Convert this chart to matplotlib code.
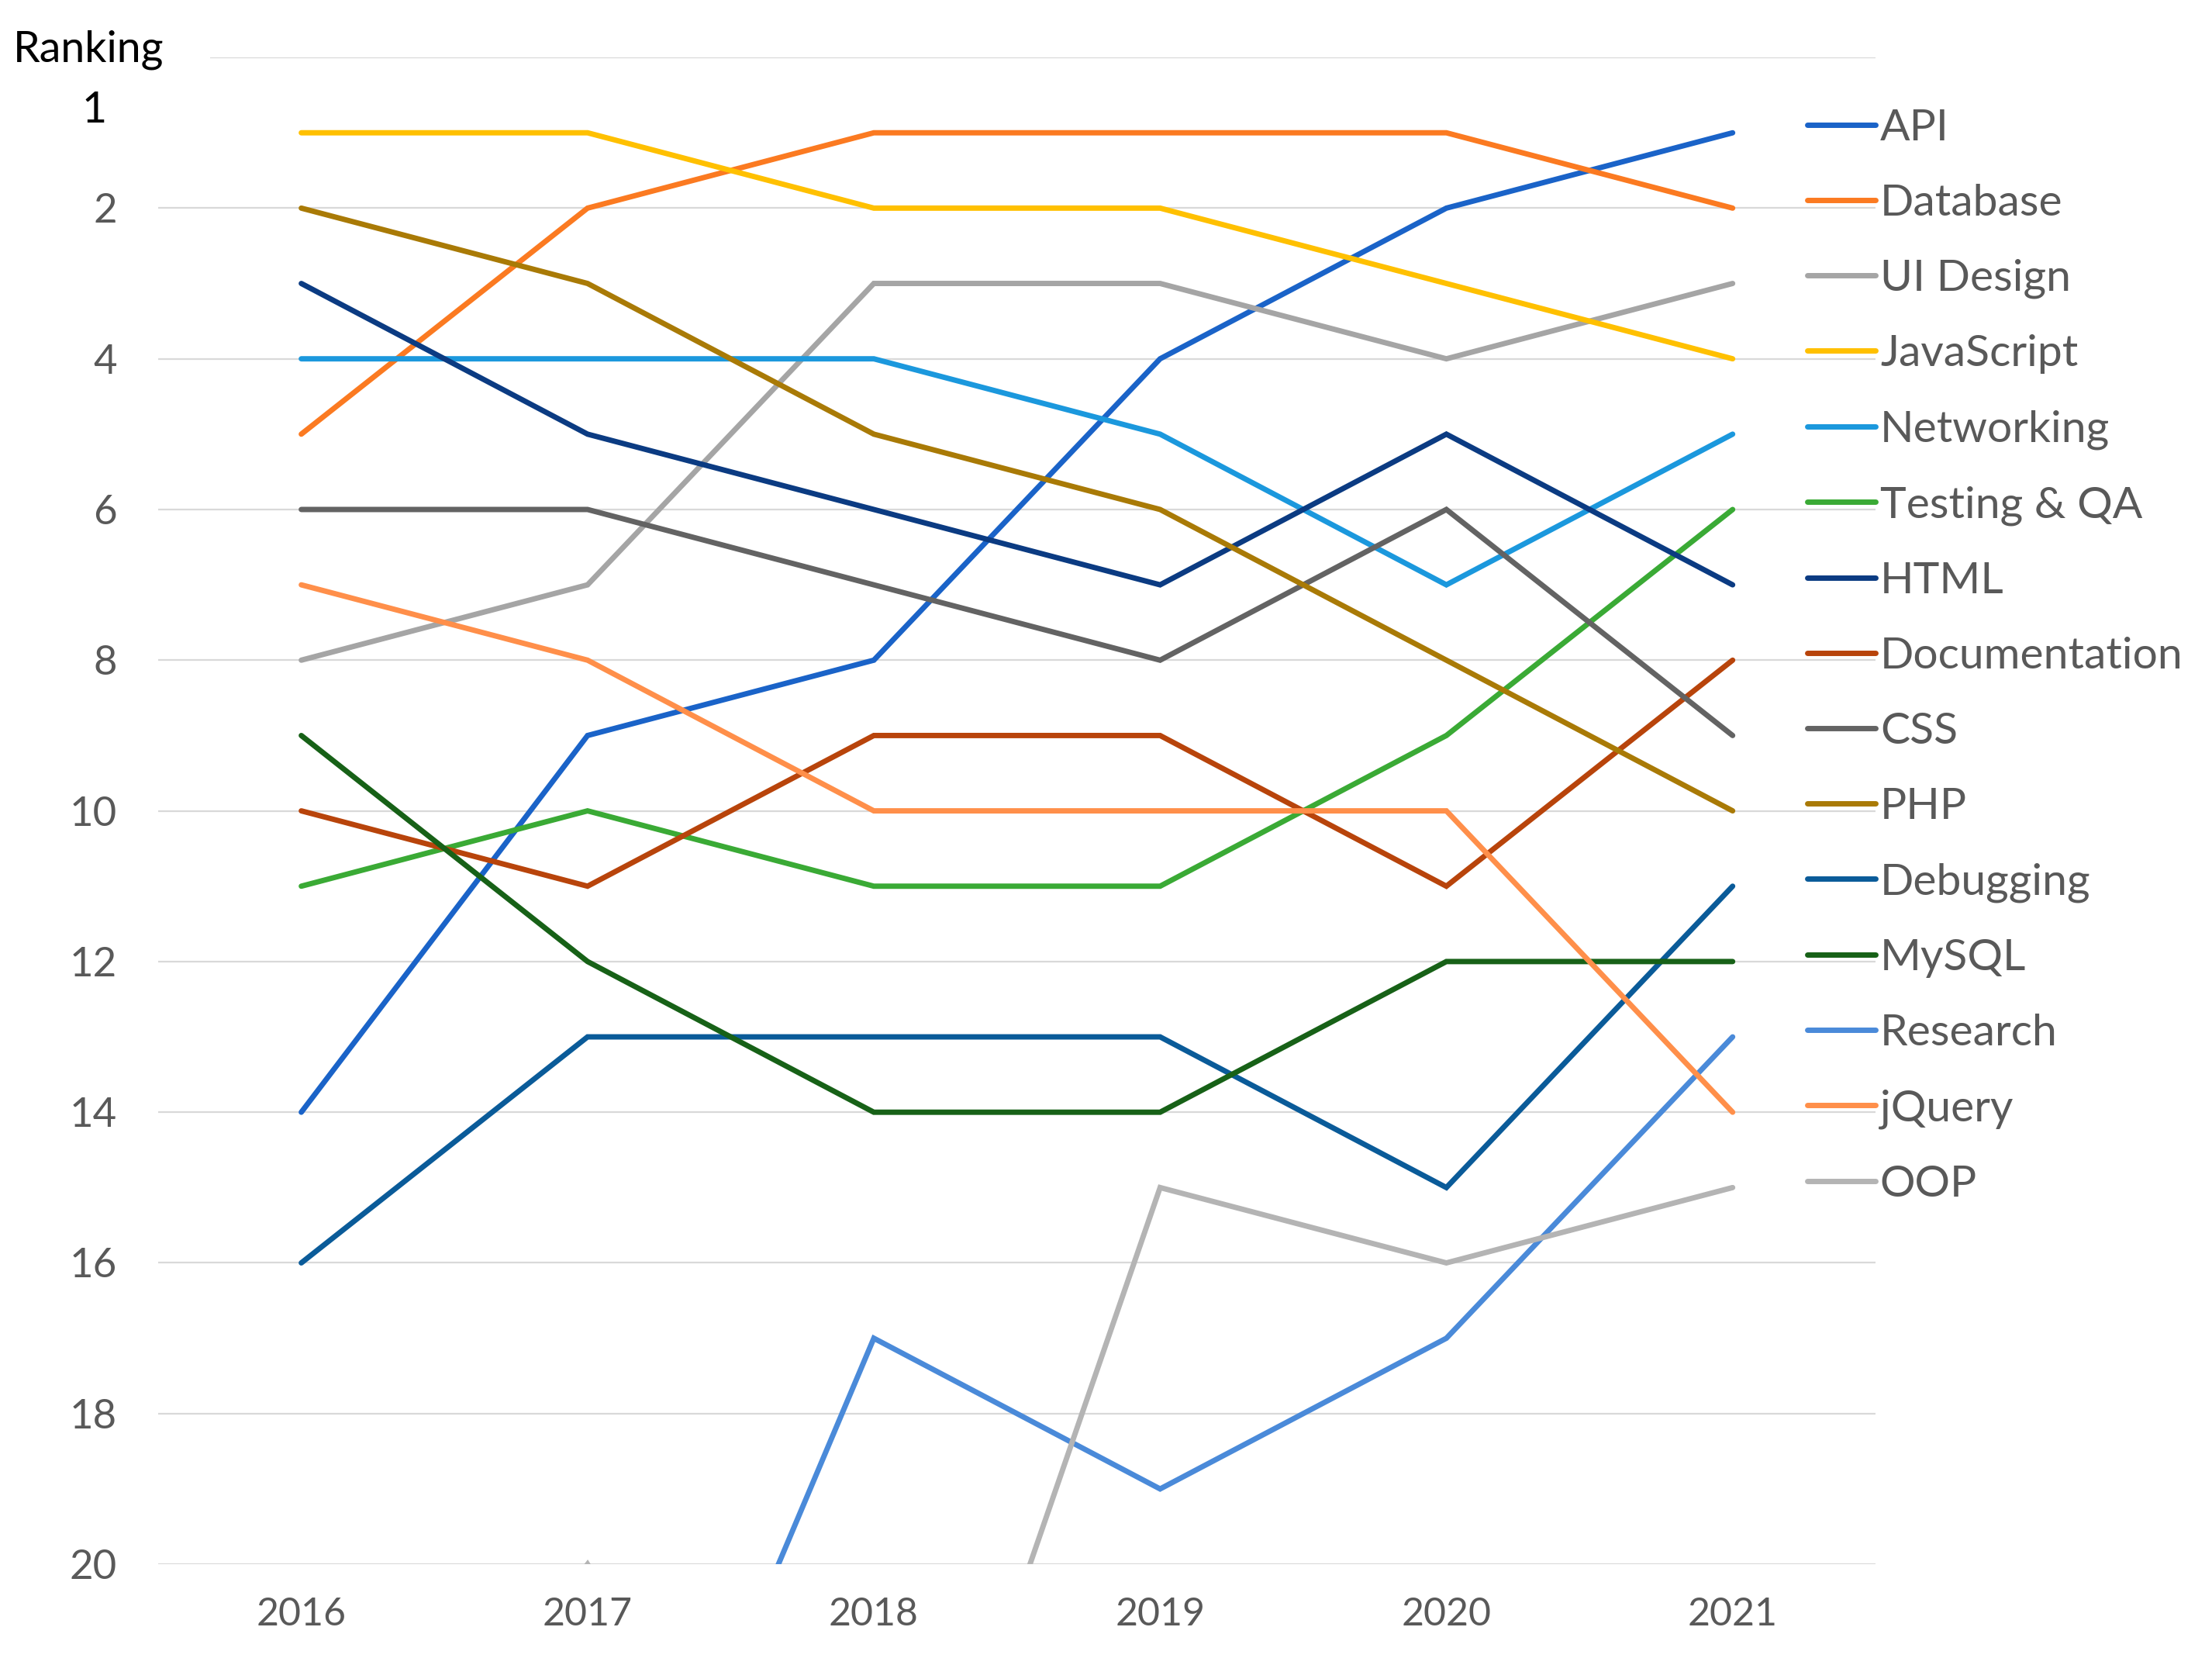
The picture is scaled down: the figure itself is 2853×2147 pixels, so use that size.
import matplotlib
matplotlib.use("Agg")
import matplotlib.pyplot as plt
from matplotlib.patches import Rectangle

# ranking data per topic, 2016-2021 (values > 20 fall below the visible axis)
years = [2016, 2017, 2018, 2019, 2020, 2021]
api = [14, 9, 8, 4, 2, 1]
database = [5, 2, 1, 1, 1, 2]
ui_design = [8, 7, 3, 3, 4, 3]
javascript = [1, 1, 2, 2, 3, 4]
networking = [4, 4, 4, 5, 7, 5]
testing_qa = [11, 10, 11, 11, 9, 6]
html = [3, 5, 6, 7, 5, 7]
documentation = [10, 11, 9, 9, 11, 8]
css = [6, 6, 7, 8, 6, 9]
php = [2, 3, 5, 6, 8, 10]
debugging = [16, 13, 13, 13, 15, 11]
mysql = [9, 12, 14, 14, 12, 12]
research = [27, 26, 17, 19, 17, 13]
jquery = [7, 8, 10, 10, 10, 14]
oop = [25, 20, 26, 15, 16, 15]

series_names = ["API", "Database", "UI Design", "JavaScript", "Networking",
                "Testing & QA", "HTML", "Documentation", "CSS", "PHP",
                "Debugging", "MySQL", "Research", "jQuery", "OOP"]
series_values = [api, database, ui_design, javascript, networking,
                 testing_qa, html, documentation, css, php,
                 debugging, mysql, research, jquery, oop]
series_colors = ["#1a63c8", "#fb7a21", "#a5a5a5", "#ffc000", "#1b98dd",
                 "#3aaa35", "#0b3b82", "#b8440b", "#636363", "#a97a06",
                 "#0a5b99", "#176117", "#4a8ad9", "#ff8f4a", "#b4b4b4"]

y_ticks = [2, 4, 6, 8, 10, 12, 14, 16, 18, 20]

plt.rcParams["font.family"] = ["Lato", "DejaVu Sans"]
TEXT_GREY = "#595959"

fig = plt.figure(figsize=(28.53, 21.47), dpi=100)
ax = fig.add_axes([0.0715, 0.0605, 0.848 - 0.0715, 0.9655 - 0.0605])

for name, vals, col in zip(series_names, series_values, series_colors):
    ax.plot(years, vals, color=col, lw=5, label=name, solid_capstyle="round",
            solid_joinstyle="miter", zorder=3)

ax.set_xlim(2015.5, 2021.5)
ax.set_ylim(20, 0)
ax.set_xticks(years)
ax.set_xticklabels([str(y) for y in years])
ax.set_yticks([0] + y_ticks)
ax.set_yticklabels([""] + [str(t) for t in y_ticks])
ax.grid(axis="y", color="#d9d9d9", lw=1.6, zorder=1)
ax.grid(axis="x", visible=False)
for sp in ax.spines.values():
    sp.set_visible(False)
ax.tick_params(axis="y", length=0, pad=38, labelsize=38, labelcolor=TEXT_GREY)
ax.tick_params(axis="x", length=0, pad=30, labelsize=36, labelcolor=TEXT_GREY)

# manual "1" label next to the top rank
ax.text(-0.030, 0.7, "1", transform=ax.get_yaxis_transform(), ha="right",
        va="center", fontsize=40, color="black")

# white patch hiding the start of the top gridline behind the title
fig.patches.append(Rectangle((0.0, 0.955), 0.095, 0.02, transform=fig.transFigure,
                             facecolor="white", edgecolor="none", zorder=2))
fig.text(0.006, 1 - 64 / 2147, "Ranking", ha="left", va="center", fontsize=40,
         color="black", zorder=3)

leg = ax.legend(loc="upper left", bbox_to_anchor=(0.817, 0.935),
                bbox_transform=fig.transFigure, frameon=False, fontsize=41,
                handlelength=1.55, handletextpad=0.1, labelspacing=0.81,
                borderpad=0, borderaxespad=0)
for txt in leg.get_texts():
    txt.set_color(TEXT_GREY)
for h in leg.get_lines():
    h.set_linewidth(5)

fig.savefig("out.png", dpi=100, facecolor="white")
